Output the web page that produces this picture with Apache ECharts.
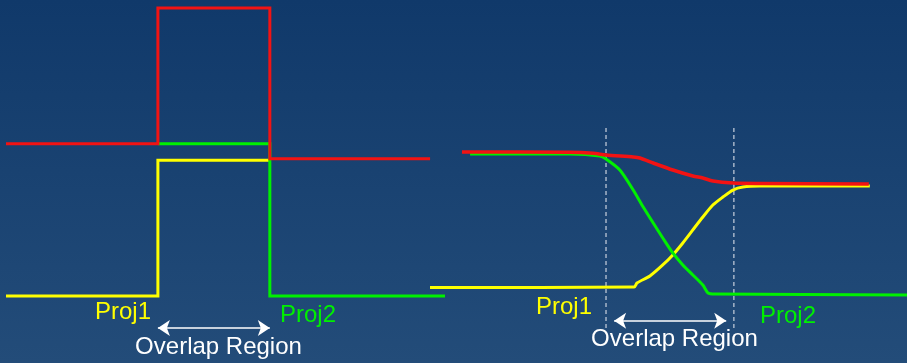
<!DOCTYPE html>
<html>
<head>
<meta charset="utf-8">
<script src="https://cdn.jsdelivr.net/npm/echarts@6/dist/echarts.min.js"></script>
<style>
  html, body { margin: 0; padding: 0; }
  #chart { width: 907px; height: 363px; }
</style>
</head>
<body>
<div id="chart"></div>
<script>
// Left panel: hard (step) weights of the two projections and their sum
const stepYellow = [[0, 0], [34.6, 0], [34.6, 1], [60.1, 1]];
const stepGreen = [[34.6, 1.12], [60.1, 1.12], [60.1, 0], [100, 0]];
const stepRed = [[0, 1.12], [34.6, 1.12], [34.6, 2.12], [60.1, 2.12], [60.1, 1.01], [96.6, 1.01]];

// Right panel: smooth blending weights across the overlap region
const blendYellow = [[0, 0.052], [42.8, 0.056], [43.4, 0.084], [46.1, 0.133], [48.8, 0.21], [50.9, 0.28],
  [53.0, 0.364], [55.1, 0.455], [57.2, 0.545], [59.3, 0.629], [61.4, 0.685], [63.5, 0.734],
  [65.6, 0.755], [69.2, 0.762], [92.2, 0.762]];
const blendGreen = [[8.4, 0.986], [29.4, 0.986], [35.6, 0.972], [36.9, 0.951], [39.8, 0.874], [42.6, 0.734],
  [44.7, 0.615], [46.8, 0.503], [48.8, 0.399], [50.9, 0.294], [53.0, 0.21], [55.1, 0.14],
  [57.2, 0.07], [58.3, 0.014], [59.7, 0.007], [100, 0]];
const blendRed = [[6.7, 1.0], [29.4, 0.998], [34.2, 0.991], [36.9, 0.979], [42.6, 0.965], [44.0, 0.958],
  [46.8, 0.923], [50.9, 0.874], [55.1, 0.832], [57.2, 0.818], [59.3, 0.797], [63.5, 0.783],
  [69.2, 0.78], [92.0, 0.776]];

// Overlap region boundaries (right panel) and arrow extents
const overlapBounds = [36.9, 63.7];
const stepArrow = [[34.6, -0.236], [60.1, -0.236]];
const blendArrow = [[38.6, -0.18], [62.1, -0.18]];

// Text labels
const labelProj1 = 'Proj1';
const labelProj2 = 'Proj2';
const labelOverlap = 'Overlap Region';

const YELLOW = '#ffff00';
const GREEN = '#00f000';
const RED = '#f21313';
const FONT = '"Liberation Sans", Arial, sans-serif';

const chart = echarts.init(document.getElementById('chart'), null, { renderer: 'canvas' });

function lineSeries(xi, data, color, width, smooth) {
  return {
    type: 'line', xAxisIndex: xi, yAxisIndex: xi, data: data,
    showSymbol: false, symbol: 'none', clip: false, animation: false,
    smooth: smooth || false,
    lineStyle: { color: color, width: width, join: 'miter', cap: 'butt' }
  };
}

function arrowSeries(xi, pts) {
  return {
    type: 'lines', coordinateSystem: 'cartesian2d', xAxisIndex: xi, yAxisIndex: xi,
    clip: false, animation: false,
    symbol: ['arrow', 'arrow'], symbolSize: [12, 12],
    lineStyle: { color: '#ffffff', width: 1.5, opacity: 1 },
    data: [{ coords: pts }]
  };
}

function dashSeries(xv) {
  return {
    type: 'line', xAxisIndex: 1, yAxisIndex: 1, data: [[xv, 1.168], [xv, -0.25]],
    showSymbol: false, symbol: 'none', clip: false, animation: false,
    lineStyle: { color: 'rgba(190,200,215,0.85)', width: 1.5, type: [4, 3] }
  };
}

function text(str, x, y, color, align) {
  return {
    type: 'text', x: x, y: y, silent: true,
    style: { text: str, fill: color, font: '24px ' + FONT, align: align || 'left', verticalAlign: 'middle' }
  };
}

const hiddenAxis = { show: false, axisLine: { show: false }, splitLine: { show: false }, axisTick: { show: false }, axisLabel: { show: false } };

chart.setOption({
  backgroundColor: {
    type: 'linear', x: 0, y: 0, x2: 0, y2: 1,
    colorStops: [{ offset: 0, color: '#10396a' }, { offset: 1, color: '#234c79' }]
  },
  animation: false,
  grid: [
    { left: 6, top: 8, width: 439, height: 288 },
    { left: 430, top: 152, width: 477, height: 143 }
  ],
  xAxis: [
    Object.assign({ type: 'value', gridIndex: 0, min: 0, max: 100 }, hiddenAxis),
    Object.assign({ type: 'value', gridIndex: 1, min: 0, max: 100 }, hiddenAxis)
  ],
  yAxis: [
    Object.assign({ type: 'value', gridIndex: 0, min: 0, max: 2.12 }, hiddenAxis),
    Object.assign({ type: 'value', gridIndex: 1, min: 0, max: 1 }, hiddenAxis)
  ],
  series: [
    lineSeries(0, stepYellow, YELLOW, 3),
    lineSeries(0, stepGreen, GREEN, 3),
    lineSeries(0, stepRed, RED, 3),
    dashSeries(overlapBounds[0]),
    dashSeries(overlapBounds[1]),
    lineSeries(1, blendYellow, YELLOW, 3, 0.25),
    lineSeries(1, blendGreen, GREEN, 3, 0.25),
    lineSeries(1, blendRed, RED, 3.5, 0.25),
    arrowSeries(0, stepArrow),
    arrowSeries(1, blendArrow)
  ],
  graphic: [
    text(labelProj1, 95, 312, YELLOW),
    text(labelProj2, 280, 315, GREEN),
    text(labelOverlap, 218.5, 347, '#ffffff', 'center'),
    text(labelProj1, 536, 307, YELLOW),
    text(labelProj2, 760, 316, GREEN),
    text(labelOverlap, 674.5, 339, '#ffffff', 'center')
  ]
});
</script>
</body>
</html>
